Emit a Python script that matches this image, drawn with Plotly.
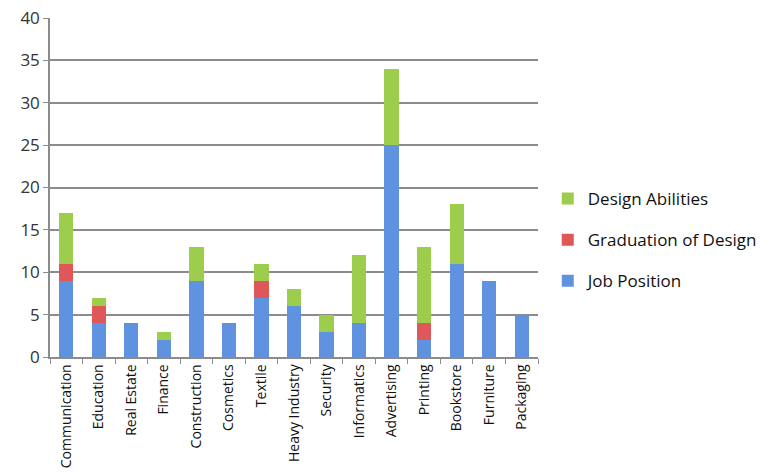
import plotly.graph_objects as go

categories = ["Communication", "Education", "Real Estate", "Finance", "Construction",
              "Cosmetics", "Textile", "Heavy Industry", "Security", "Informatics",
              "Advertising", "Printing", "Bookstore", "Furniture", "Packaging"]
job_position = [9, 4, 4, 2, 9, 4, 7, 6, 3, 4, 25, 2, 11, 9, 5]
graduation_of_design = [2, 2, 0, 0, 0, 0, 2, 0, 0, 0, 0, 2, 0, 0, 0]
design_abilities = [6, 1, 0, 1, 4, 0, 2, 2, 2, 8, 9, 9, 7, 0, 0]
y_ticks = [0, 5, 10, 15, 20, 25, 30, 35, 40]

font_family = "Open Sans, DejaVu Sans, sans-serif"

# (name, values, colour, legend rank) - stacked bottom to top, listed top to bottom
series = [
    ("Job Position", job_position, "#5f93e0", 3),
    ("Graduation of Design", graduation_of_design, "#e0575a", 2),
    ("Design Abilities", design_abilities, "#9ccd4c", 1),
]

fig = go.Figure()
for name, values, color, rank in series:
    fig.add_trace(go.Bar(x=categories, y=values, name=name, legendgroup=name,
                         legendrank=rank,
                         marker=dict(color=color, line=dict(width=0))))

fig.update_layout(
    barmode="stack",
    bargap=0.56,
    width=774, height=475,
    margin=dict(l=50, r=231, t=18, b=118),
    plot_bgcolor="white", paper_bgcolor="white",
    font=dict(family=font_family, color="#222222"),
    legend=dict(x=1.02, y=0.345, yanchor="middle", xanchor="left",
                traceorder="grouped", font=dict(size=17, color="#111111"),
                itemwidth=30, tracegroupgap=16),
    xaxis=dict(
        tickangle=-90, tickfont=dict(size=14, color="#111111"),
        showline=True, linecolor="#8c8c8c", linewidth=1.5,
        ticks="outside", tickson="boundaries", ticklen=5, tickcolor="#8c8c8c",
        showgrid=False, automargin=False,
    ),
    yaxis=dict(
        range=[0, 40], tickvals=y_ticks, tickfont=dict(size=17, color="#333333"),
        showline=True, linecolor="#8c8c8c", linewidth=1.5,
        ticks="outside", ticklen=5, tickcolor="#8c8c8c",
        showgrid=True, gridcolor="#8c8c8c", gridwidth=1.5,
        zeroline=False, automargin=False,
    ),
)

fig.write_html("out.html")
